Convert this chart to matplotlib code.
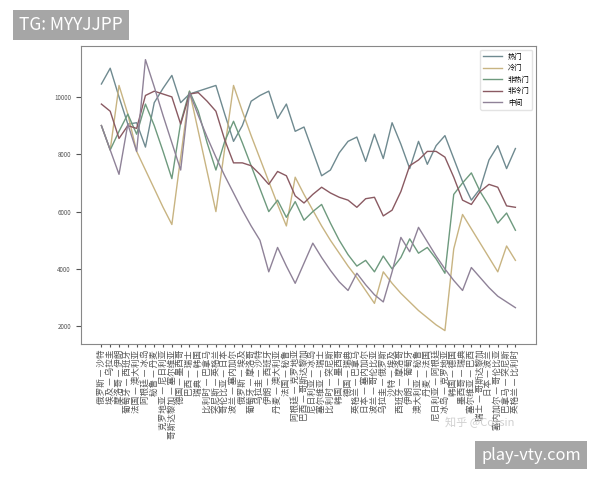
import matplotlib
matplotlib.use("Agg")
import matplotlib.pyplot as plt

plt.rcParams['font.family'] = ['Noto Sans CJK SC', 'DejaVu Sans']

matches = [
    "俄罗斯 — 沙特", "埃及 — 乌拉圭", "摩洛哥 — 伊朗", "葡萄牙 — 西班牙",
    "法国 — 澳大利亚", "阿根廷 — 冰岛", "秘鲁 — 丹麦", "克罗地亚 — 尼日利亚",
    "哥斯达黎加 — 塞尔维亚", "德国 — 墨西哥", "巴西 — 瑞士", "瑞典 — 韩国",
    "比利时 — 巴拿马", "突尼斯 — 英格兰", "哥伦比亚 — 日本", "波兰 — 塞内加尔",
    "俄罗斯 — 埃及", "葡萄牙 — 摩洛哥", "乌拉圭 — 沙特", "伊朗 — 西班牙",
    "丹麦 — 澳大利亚", "法国 — 秘鲁", "阿根廷 — 克罗地亚", "巴西 — 哥斯达黎加",
    "尼日利亚 — 冰岛", "塞尔维亚 — 瑞士", "比利时 — 突尼斯", "韩国 — 墨西哥",
    "德国 — 瑞典", "英格兰 — 巴拿马", "日本 — 塞内加尔", "波兰 — 哥伦比亚",
    "乌拉圭 — 俄罗斯", "沙特 — 埃及", "西班牙 — 摩洛哥", "伊朗 — 葡萄牙",
    "澳大利亚 — 秘鲁", "丹麦 — 法国", "尼日利亚 — 阿根廷", "冰岛 — 克罗地亚",
    "韩国 — 德国", "墨西哥 — 瑞典", "塞尔维亚 — 巴西", "瑞士 — 哥斯达黎加",
    "日本 — 波兰", "塞内加尔 — 哥伦比亚", "巴拿马 — 突尼斯", "英格兰 — 比利时",
]

hot = [10450, 11000, 10000, 9050, 9100, 8250, 9800, 10300, 10750, 9800, 10100, 10200,
       10300, 10400, 9400, 8450, 9000, 9850, 10050, 10200, 9250, 9750, 8800, 8950,
       8100, 7250, 7450, 8050, 8450, 8600, 7750, 8700, 7850, 9100, 8350, 7500,
       8450, 7650, 8300, 8650, 7850, 7050, 6400, 6800, 7800, 8300, 7500, 8200]
cold = [9000, 8150, 10400, 9400, 8100, 7450, 6800, 6150, 5550, 7900, 10200, 8800,
        7400, 6000, 8200, 10400, 9500, 8650, 7850, 7050, 6250, 5500, 7200, 6600,
        6050, 5500, 5000, 4550, 4100, 3700, 3250, 2800, 3900, 3500, 3150, 2850,
        2550, 2300, 2050, 1850, 4700, 5900, 5400, 4900, 4400, 3900, 4800, 4300]
non_hot = [9000, 8150, 8800, 9400, 8700, 9750, 9000, 8100, 7150, 9100, 10200, 9500,
           8400, 7450, 8450, 9150, 8400, 7600, 6800, 6000, 6400, 5800, 6350, 5700,
           6000, 6250, 5600, 5000, 4500, 4100, 4300, 3900, 4450, 4000, 4400, 5050,
           4550, 4750, 4350, 3850, 6600, 7000, 7350, 6700, 6200, 5600, 5950, 5350]
non_cold = [9750, 9500, 8550, 9000, 8900, 10050, 10200, 10100, 10000, 9050, 10100, 10150,
            9850, 9500, 8500, 7700, 7700, 7600, 7300, 6950, 7400, 7250, 6550, 6300,
            6600, 6850, 6650, 6500, 6400, 6150, 6450, 6500, 5850, 6050, 6700, 7600,
            7800, 8100, 8100, 7900, 7200, 6400, 6250, 6700, 6950, 6850, 6200, 6150]
middle = [9000, 8150, 7300, 9050, 8100, 11300, 10350, 9350, 8400, 7450, 10150, 9350,
          8600, 7900, 7250, 6650, 6050, 5500, 5000, 3900, 4750, 4100, 3500, 4200,
          4900, 4400, 3950, 3550, 3250, 3850, 3450, 3100, 2850, 3900, 5100, 4600,
          5450, 4950, 4450, 4000, 3600, 3250, 4050, 3700, 3350, 3050, 2850, 2650]

series = [("热门", hot, "#6f8a90"), ("冷门", cold, "#c8b482"), ("非热门", non_hot, "#6e9a7e"),
          ("非冷门", non_cold, "#8a5a62"), ("中间", middle, "#8f8298")]

fig = plt.figure(figsize=(6, 4.8), dpi=100)
ax = fig.add_axes([0.1345, 0.283, 0.759, 0.621])
x = range(len(matches))
for name, vals, col in series:
    ax.plot(x, vals, color=col, lw=1.0, label=name)

ax.set_xticks(list(x))
ax.set_xticklabels(matches, rotation=90, fontsize=6.2)
ax.tick_params(axis="y", labelsize=4.5, colors="#555555")
ax.tick_params(axis="x", length=2, colors="#555555", pad=2)
for s in ax.spines.values():
    s.set_color("#888888")
ax.legend(loc="upper right", fontsize=5.2, frameon=True, edgecolor="#dddddd",
          handlelength=2.6, labelspacing=0.5)

# watermarks
fig.text(0.032, 0.948, "TG: MYYJJPP", fontsize=12.5, color="white", va="center",
         bbox=dict(boxstyle="square,pad=0.35", fc="#a6a6a6", ec="none"))
fig.text(0.8, 0.12, "知乎 @Cossin", fontsize=8, color="#d0d0d0", ha="center", va="center")
fig.text(0.885, 0.052, "play-vty.com", fontsize=11.8, color="white", ha="center", va="center",
         bbox=dict(boxstyle="square,pad=0.35", fc="#a6a6a6", ec="none"))

fig.savefig("out.png", dpi=100)
